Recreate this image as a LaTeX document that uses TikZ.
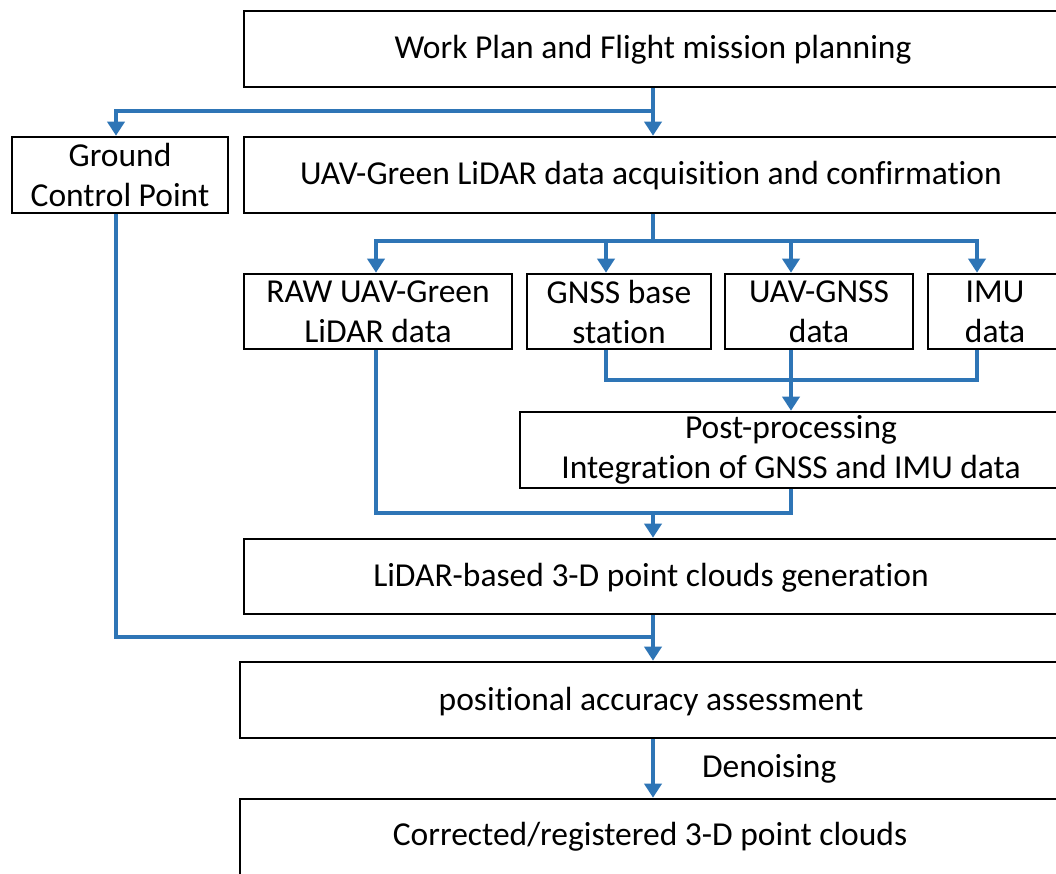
\documentclass[tikz,border=0pt]{standalone}
\usepackage{fontspec}
\setmainfont[Ligatures=NoCommon]{Carlito}
\usetikzlibrary{arrows.meta,calc}
\definecolor{flowblue}{HTML}{2E75B6}
\tikzset{txt/.style={font=\fontsize{33.5}{40}\selectfont,align=center,inner sep=0pt}}
\begin{document}
\begin{tikzpicture}[x=1pt,y=-1pt,
  box/.style={draw=black,line width=2.6pt,fill=white,inner sep=0pt,txt},
  link/.style={draw=flowblue,line width=4pt},
  arr/.style={link,-{Triangle[width=17pt,length=14pt]}}]
\useasboundingbox (0,0) rectangle (1056,873);
\clip (0,0) rectangle (1056,873);
\fill[white] (0,0) rectangle (1056,873);
% boxes
\node[box,minimum width=818pt,minimum height=76pt] (wp) at (653,49) {};
\node[txt] (twp) at (653,50) {Work Plan and Flight mission planning};
\node[box,minimum width=216pt,minimum height=76pt] (gcp) at (120,175) {Ground\\Control Point};
\node[box,minimum width=818pt,minimum height=76pt] (acq) at (653,175) {};
\node[txt] (tacq) at (651,176) {UAV-Green LiDAR data acquisition and confirmation};
\node[box,minimum width=268pt,minimum height=75pt] (raw) at (378,311.5) {RAW UAV-Green\\LiDAR data};
\node[box,minimum width=184pt,minimum height=75pt] (gnss) at (619,311.5) {GNSS base\\station};
\node[box,minimum width=188pt,minimum height=75pt] (uavg) at (819,311.5) {UAV-GNSS\\data};
\node[box,minimum width=134pt,minimum height=75pt] (imu) at (995,311.5) {IMU\\data};
\node[box,minimum width=542pt,minimum height=76pt] (post) at (791,450) {Post-processing\\Integration of GNSS and IMU data};
\node[box,minimum width=818pt,minimum height=75pt] (lid) at (653,576.5) {};
\node[txt] (tlid) at (651,578) {LiDAR-based 3-D point clouds generation};
\node[box,minimum width=826pt,minimum height=76pt] (pos) at (653,700) {};
\node[txt] (tpos) at (651,702) {positional accuracy assessment};
\node[box,minimum width=826pt,minimum height=120pt] (cor) at (653,859) {};
\node[txt] (tcor) at (650,837) {Corrected/registered 3-D point clouds};
% coordinates
\coordinate (j0) at (653,111);
\coordinate (j1) at (653,241);
\coordinate (xr) at (376,0);
\coordinate (xg) at (606,0);
\coordinate (xu) at (791,0);
\coordinate (xi) at (977,0);
\coordinate (xgc) at (116,0);
\coordinate (j2) at (791,380);
\coordinate (j3) at (653,513);
\coordinate (j4) at (653,637);
% connectors
\draw[arr] (wp.south) -- (acq.north);
\draw[arr] (j0) -| (xgc |- gcp.north);
\draw[link] (acq.south) -- (j1);
\draw[arr] (j1) -| (xr |- raw.north);
\draw[arr] (j1) -| (xg |- gnss.north);
\draw[arr] (j1) -| (xu |- uavg.north);
\draw[arr] (j1) -| (xi |- imu.north);
\draw[link] (xg |- gnss.south) |- (j2) -| (xi |- imu.south);
\draw[arr] (xu |- uavg.south) -- (post.north);
\draw[link] (xr |- raw.south) |- (j3) -| (post.south);
\draw[arr] (j3) -- (lid.north);
\draw[link] (xgc |- gcp.south) |- (j4);
\draw[arr] (lid.south) -- (pos.north);
\draw[arr] (pos.south) -- node[txt,right=47pt,text=black] (dn) {Denoising} (cor.north);
\end{tikzpicture}
\end{document}
